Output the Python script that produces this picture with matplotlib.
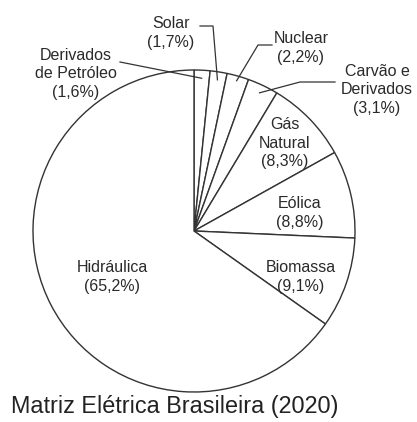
import numpy as np
import matplotlib
matplotlib.use("Agg")
import matplotlib.pyplot as plt

plt.rcParams['font.family'] = ['Liberation Sans', 'DejaVu Sans']

# dados da matriz eletrica (percentual)
fontes = ['Derivados\nde Petróleo', 'Solar', 'Nuclear', 'Carvão e\nDerivados',
          'Gás\nNatural', 'Eólica', 'Biomassa', 'Hidráulica']
valores = [1.6, 1.7, 2.2, 3.1, 8.3, 8.8, 9.1, 65.2]
titulo = 'Matriz Elétrica Brasileira (2020)'

# pixel layout of the reference picture
W, H = 417, 422
cx, cy, R = 194, 231, 161

def px(x, y):
    # pixel (from top-left) -> data units of the pie
    return (x - cx) / R, (cy - y) / R

# text centres in pixels, one per slice
label_px = [(76, 74), (171, 33), (301, 48), (377, 90),
            (285, 143), (300, 213), (301, 277), (112, 277)]
# leader lines for the small slices: start point and elbow (pixels), None = inside label
leader_px = [[(120, 62)], [(200, 26), (213, 26)], [(272, 45), (258, 45)],
             [(335, 82), (300, 82)], None, None, None, None]
leader_r = [0.95, 0.95, 0.97, 0.95]

fig = plt.figure(figsize=(W / 100, H / 100), dpi=100)
ax = fig.add_axes([0, 0, 1, 1])

fmt = lambda v: f'({v:.1f}%)'.replace('.', ',')
wedges, _ = ax.pie(valores, startangle=90, counterclock=False, radius=1,
                   colors=['white'] * len(valores),
                   wedgeprops=dict(edgecolor='#333333', linewidth=1.0))

cor = '#2a2a2a'
for i, w in enumerate(wedges):
    tx, ty = px(*label_px[i])
    ax.text(tx, ty, f'{fontes[i]}\n{fmt(valores[i])}', ha='center', va='center',
            fontsize=11.5, color=cor, linespacing=1.3)
    if leader_px[i] is not None:
        ang = np.deg2rad((w.theta1 + w.theta2) / 2)
        pts = [px(*p) for p in leader_px[i]]
        pts.append((leader_r[i] * np.cos(ang), leader_r[i] * np.sin(ang)))
        xs, ys = zip(*pts)
        ax.plot(xs, ys, color='#333333', lw=0.9)

ax.set_xlim(-cx / R, (W - cx) / R)
ax.set_ylim(-(H - cy) / R, cy / R)
ax.set_aspect('auto')
ax.axis('off')

fig.text(175 / W, 1 - 407 / H, titulo, ha='center', va='center', fontsize=16.8, color='#222222')

fig.savefig('out.png', dpi=100)
